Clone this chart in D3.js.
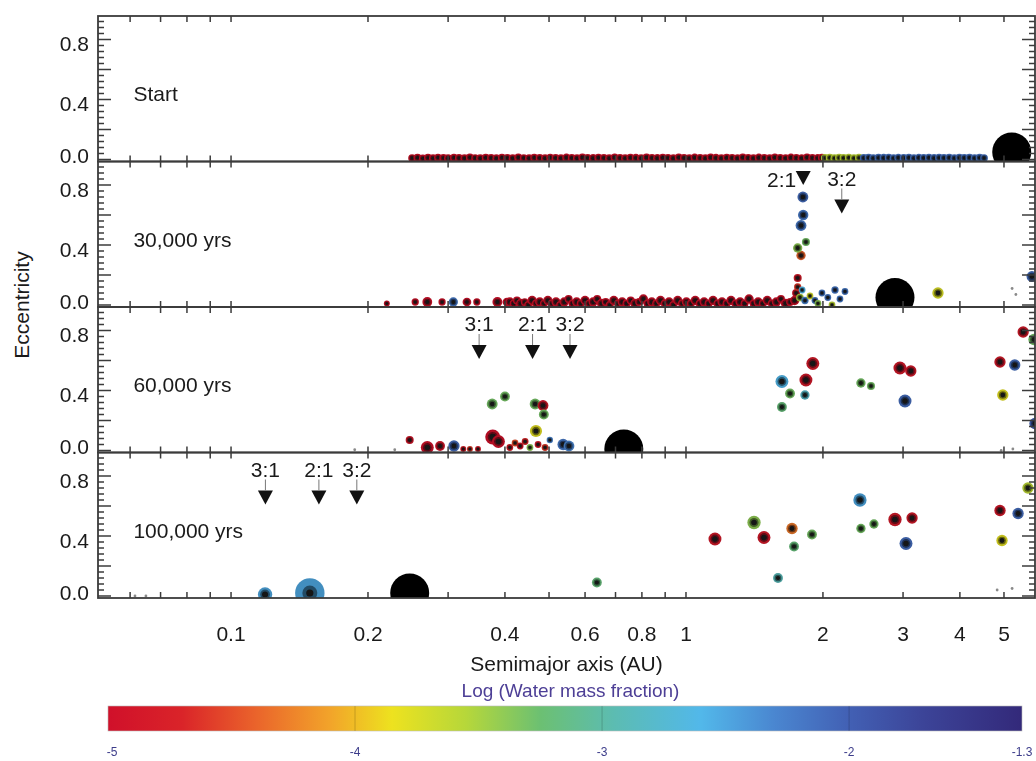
<!DOCTYPE html>
<html>
<head>
<meta charset="utf-8">
<script src="https://cdn.jsdelivr.net/npm/d3@7"></script>
<style>
body{margin:0;background:#fff}
svg{display:block;font-family:"Liberation Sans",Arial,Helvetica,sans-serif}
</style>
</head>
<body>
<div id="chart"></div>
<script>
// Eccentricity vs semimajor axis, 4 snapshots, colour = log water mass fraction
// bodies: [a (AU), e, mass (rel.), log water fraction]  (null = grey tracer)

const panelNames = ["Start", "30,000 yrs", "60,000 yrs", "100,000 yrs"];

const jupiterA = [5.2, 2.88, 0.73, 0.247];
const jupiterE = [0.05, 0.05, 0.01, 0.02];

// mean motion resonances with the giant planet
const resLabels = [[], ["2:1", "3:2"], ["3:1", "2:1", "3:2"], ["3:1", "2:1", "3:2"]];
const resA      = [[], [1.81, 2.20], [0.351, 0.46, 0.556], [0.119, 0.156, 0.189]];
const resTipE   = [[], [0.80, 0.61], [0.61, 0.61, 0.61], [0.61, 0.61, 0.61]];

const bodiesStart = [
  [0.250,.010,.18,-5],[0.257,.012,.2,-5],[0.264,.008,.18,-5],[0.271,.011,.2,-5],[0.278,.009,.2,-5],
  [0.285,.013,.18,-5],[0.293,.010,.2,-5],[0.300,.008,.2,-5],[0.309,.012,.18,-5],[0.317,.010,.2,-5],
  [0.326,.009,.2,-5],[0.335,.013,.2,-5],[0.344,.010,.18,-5],[0.353,.008,.2,-5],[0.363,.012,.2,-5],
  [0.373,.010,.2,-5],[0.383,.009,.18,-5],[0.394,.012,.2,-5],[0.405,.010,.2,-5],[0.416,.008,.2,-5],
  [0.428,.013,.2,-5],[0.440,.010,.18,-5],[0.452,.009,.2,-5],[0.464,.012,.2,-5],[0.477,.010,.2,-5],
  [0.490,.008,.2,-5],[0.503,.013,.18,-5],[0.517,.010,.2,-5],[0.531,.009,.2,-5],[0.546,.012,.22,-5],
  [0.561,.010,.2,-5],[0.576,.008,.2,-5],[0.592,.013,.2,-5],[0.608,.010,.2,-5],[0.625,.009,.22,-5],
  [0.642,.012,.2,-5],[0.660,.010,.2,-5],[0.678,.008,.2,-5],[0.697,.013,.22,-5],[0.716,.010,.2,-5],
  [0.735,.009,.2,-5],[0.755,.012,.2,-5],[0.776,.010,.22,-5],[0.797,.008,.2,-5],[0.819,.013,.2,-5],
  [0.842,.010,.2,-5],[0.865,.009,.22,-5],[0.889,.012,.2,-5],[0.913,.010,.2,-5],[0.938,.008,.22,-5],
  [0.964,.013,.2,-5],[0.990,.010,.2,-5],[1.017,.009,.2,-5],[1.045,.012,.22,-5],[1.074,.010,.2,-5],
  [1.103,.008,.2,-5],[1.133,.013,.2,-5],[1.164,.010,.22,-5],[1.196,.009,.2,-5],[1.229,.012,.2,-5],
  [1.263,.010,.2,-5],[1.298,.008,.22,-5],[1.333,.013,.2,-5],[1.370,.010,.2,-5],[1.407,.009,.2,-5],
  [1.446,.012,.22,-5],[1.486,.010,.2,-5],[1.527,.008,.2,-5],[1.568,.013,.22,-5],[1.611,.010,.2,-5],
  [1.656,.009,.2,-5],[1.701,.012,.22,-5],[1.748,.010,.2,-5],[1.796,.008,.22,-5],[1.845,.013,.2,-5],
  [1.896,.010,.2,-5],[1.948,.009,.22,-5],[1.990,.012,.2,-5],
  [2.02,.010,.2,-3.6],[2.07,.012,.2,-3.6],[2.12,.009,.2,-3.6],[2.17,.011,.2,-3.6],[2.22,.010,.2,-3.6],
  [2.28,.012,.2,-3.6],[2.34,.009,.2,-3.6],[2.40,.011,.2,-3.6],
  [2.46,.010,.2,-2.15],[2.52,.012,.2,-2.15],[2.58,.009,.2,-2.15],[2.65,.011,.2,-2.15],[2.72,.010,.22,-2.15],
  [2.79,.012,.2,-2.15],[2.86,.009,.2,-2.15],[2.93,.011,.22,-2.15],[3.01,.010,.2,-2.15],[3.09,.012,.2,-2.15],
  [3.17,.009,.2,-2.15],[3.25,.011,.22,-2.15],[3.33,.010,.2,-2.15],[3.42,.012,.2,-2.15],[3.51,.009,.22,-2.15],
  [3.60,.011,.2,-2.15],[3.69,.010,.2,-2.15],[3.79,.012,.2,-2.15],[3.89,.009,.2,-2.15],[3.99,.011,.2,-2.15],
  [4.09,.010,.2,-2.15],[4.20,.012,.2,-2.15],[4.31,.009,.2,-2.15],[4.42,.011,.2,-2.15],[4.52,.010,.18,-2.15]
];

const bodies30k = [
  [0.220,.01,.08,-5],[0.254,.02,.15,-5],[0.270,.02,.35,-5],[0.291,.02,.15,-5],[0.308,.02,.3,-2.2],
  [0.330,.02,.25,-5],[0.347,.02,.15,-5],[0.385,.02,.35,-5],[0.404,.02,.25,-5],
  [0.410,.02,.3,-5],[0.418,.01,.2,-5],[0.425,.03,.2,-5],[0.433,.01,.3,-5],[0.442,.02,.18,-5],
  [0.450,.00,.2,-5],[0.459,.03,.3,-5],[0.468,.01,.2,-5],[0.477,.02,.3,-5],[0.487,.01,.18,-5],
  [0.497,.03,.3,-5],[0.507,.01,.2,-5],[0.518,.02,.3,-5],[0.529,.00,.2,-5],[0.540,.02,.3,-5],
  [0.552,.04,.2,-5],[0.563,.01,.2,-5],[0.575,.02,.3,-5],[0.587,.01,.2,-5],[0.600,.03,.3,-5],
  [0.612,.01,.18,-5],[0.625,.02,.3,-5],[0.638,.04,.2,-5],[0.652,.01,.3,-5],[0.666,.02,.2,-5],
  [0.680,.00,.2,-5],[0.694,.03,.3,-5],[0.709,.01,.2,-5],[0.724,.02,.3,-5],[0.740,.01,.2,-5],
  [0.756,.03,.2,-5],[0.772,.01,.3,-5],[0.789,.02,.2,-5],[0.806,.04,.3,-5],[0.823,.01,.2,-5],
  [0.841,.02,.3,-5],[0.860,.01,.2,-5],[0.879,.03,.3,-5],[0.898,.01,.2,-5],[0.918,.02,.3,-5],
  [0.938,.00,.2,-5],[0.959,.03,.3,-5],[0.980,.01,.2,-5],[1.002,.02,.3,-5],[1.025,.01,.2,-5],
  [1.048,.03,.3,-5],[1.072,.01,.2,-5],[1.096,.02,.3,-5],[1.121,.01,.2,-5],[1.147,.03,.3,-5],
  [1.173,.01,.2,-5],[1.200,.02,.3,-5],[1.228,.01,.2,-5],[1.256,.03,.3,-5],[1.285,.01,.2,-5],
  [1.315,.02,.3,-5],[1.345,.01,.2,-5],[1.376,.04,.3,-5],[1.408,.01,.2,-5],[1.441,.02,.3,-5],
  [1.475,.01,.2,-5],[1.509,.03,.3,-5],[1.544,.01,.2,-5],[1.580,.02,.3,-5],[1.617,.04,.2,-5],
  [1.655,.01,.3,-5],[1.694,.02,.2,-5],[1.733,.03,.3,-5],
  [1.746,.08,.2,-4.9],[1.76,.12,.15,-4.6],[1.78,.05,.18,-3.5],[1.80,.10,.12,-2.6],[1.826,.03,.15,-2.3],
  [1.873,.06,.12,-3.7],[1.921,.03,.12,-2.2],[1.95,.01,.12,-3.4],[1.99,.08,.12,-2.2],[2.05,.05,.12,-2.2],
  [2.094,.00,.12,-3.6],[2.126,.10,.15,-2.2],[2.18,.04,.12,-2.2],[2.236,.09,.12,-2.2],
  [1.76,.18,.2,-4.8],[1.79,.33,.3,-4.4],[1.76,.38,.3,-3.4],[1.835,.42,.2,-3.3],
  [1.79,.53,.45,-2.2],[1.81,.60,.4,-2.2],[1.807,.72,.45,-2.1],
  [3.58,.08,.5,-3.75],[5.21,.11,.03,null],[5.31,.07,.03,null],[5.76,.19,.45,-2.1]
];

const bodies60k = [
  [0.187,.005,.04,null],[0.229,.005,.04,null],[0.247,.07,.2,-4.9],[0.270,.02,.7,-5],[0.288,.03,.35,-4.9],
  [0.309,.03,.5,-2.1],[0.324,.01,.08,-4.8],[0.335,.01,.08,-4.6],[0.349,.01,.08,-4.8],
  [0.410,.02,.12,-4.8],[0.421,.05,.12,-4.5],[0.432,.03,.12,-4.9],[0.443,.06,.12,-4.7],[0.454,.02,.12,-3.4],
  [0.473,.04,.12,-4.8],[0.490,.02,.12,-4.6],[0.502,.07,.1,-2.3],
  [0.376,.09,1.0,-5],[0.387,.06,.7,-5],[0.375,.31,.45,-3.3],[0.400,.36,.35,-3.3],
  [0.466,.31,.45,-3.3],[0.485,.30,.45,-4.9],[0.487,.24,.35,-3.3],[0.468,.13,.6,-3.8],
  [0.537,.04,.5,-2.2],[0.553,.03,.45,-2.3],
  [1.625,.46,.7,-2.6],[1.693,.38,.35,-3.3],[1.625,.29,.35,-3.2],[1.835,.47,.7,-4.9],[1.90,.58,.7,-4.9],
  [1.826,.37,.3,-2.8],[2.424,.45,.3,-3.3],[2.551,.43,.2,-3.3],[2.953,.55,.7,-4.9],[3.12,.53,.5,-4.9],
  [3.03,.33,.7,-2.1],[4.90,.59,.5,-4.9],[5.28,.57,.5,-2.1],[4.97,.37,.5,-3.8],[5.51,.79,.5,-4.9],
  [5.82,.74,.5,-3.3],[5.85,.18,.5,-2.0],[4.93,.00,.03,null],[5.23,.01,.03,null]
];

const bodies100k = [
  [0.0615,.0,.03,null],[0.065,.0,.03,null],[0.1188,.01,.9,-2.5],[0.149,.02,4.6,-2.5],[0.637,.09,.35,-3.2],
  [1.158,.38,.7,-4.9],[1.411,.49,.75,-3.4],[1.484,.39,.7,-4.9],[1.71,.45,.5,-4.3],[1.728,.33,.35,-3.2],
  [1.892,.41,.35,-3.3],[1.593,.12,.35,-2.9],[2.412,.64,.75,-2.5],[2.424,.45,.3,-3.3],[2.589,.48,.3,-3.3],
  [2.88,.51,.75,-4.9],[3.14,.52,.5,-4.9],[3.045,.35,.7,-2.1],[4.90,.57,.5,-4.9],[5.37,.55,.5,-2.1],
  [4.95,.37,.5,-3.8],[5.645,.72,.5,-3.6],[4.83,.04,.03,null],[5.21,.05,.03,null]
];

const panelBodies = [bodiesStart, bodies30k, bodies60k, bodies100k];

const xTickLabels = [0.1, 0.2, 0.4, 0.6, 0.8, 1, 2, 3, 4, 5];
const yTickLabels = [0, 0.4, 0.8];

const waterStops  = [-5, -4.7, -4.4, -4.1, -3.85, -3.55, -3.25, -2.95, -2.6, -2.3, -2.0, -1.7, -1.3];
const waterColors = ["#d0102a","#da2429","#ea642b","#f2a42a","#ede21f","#b6d73a","#6cc072",
                     "#5cbcb2","#52b8ea","#4a86d0","#4260b4","#3c4498","#33297a"];
const waterTicks = [-5, -4, -3, -2, -1.3];

// ---------------- layout
const W = 1036, H = 761;
const plotL = 98, plotR = 1035, top0 = 16, panelH = 145.5;
const FONT = 21;

const x = d3.scaleLog().domain([0.051, 5.85]).range([plotL, plotR]);
const color = d3.scaleLinear().domain(waterStops).range(waterColors).clamp(true);
const rScale = d3.scaleSqrt().domain([0, 1]).range([1.2, 7.5]);
const halo = w => d3.interpolateRgb(color(w), "#000")(0.15);

const svg = d3.select("#chart").append("svg")
  .attr("width", W).attr("height", H);
const defs = svg.append("defs");
defs.append("filter").attr("id", "soft")
  .attr("x", "-5%").attr("y", "-5%").attr("width", "110%").attr("height", "110%")
  .append("feGaussianBlur").attr("stdDeviation", 0.7);

const axisCol = "#3b3b3b";

panelBodies.forEach((bodies, i) => {
  const top = top0 + i * panelH, bot = top + panelH;
  const y = d3.scaleLinear().domain([0, 0.8]).range([bot - 2, bot - 122]);

  defs.append("clipPath").attr("id", "clip" + i)
    .append("rect").attr("x", plotL).attr("y", top)
    .attr("width", plotR - plotL).attr("height", panelH);

  const layer = svg.append("g").attr("clip-path", `url(#clip${i})`)
    .append("g").attr("filter", "url(#soft)");

  // bodies: coloured halo, darker ring, black core
  const b = layer.selectAll("g.body").data(bodies).enter().append("g")
    .attr("class", "body")
    .attr("transform", d => `translate(${x(d[0])},${y(d[1])})`);
  b.append("circle")
    .attr("r", d => d[3] == null ? 1.4 : rScale(d[2]))
    .attr("fill", d => d[3] == null ? "#8a8a8a" : halo(d[3]));
  b.filter(d => d[3] != null).append("circle")
    .attr("r", d => Math.min(rScale(d[2]) * 0.68, 7.5))
    .attr("fill", d => d3.interpolateRgb(color(d[3]), "#000")(0.55));
  b.filter(d => d[3] != null).append("circle")
    .attr("r", d => Math.min(rScale(d[2]) * 0.42, 3.6))
    .attr("fill", "#141414");

  // giant planet
  layer.append("circle")
    .attr("cx", x(jupiterA[i])).attr("cy", y(jupiterE[i]))
    .attr("r", 19.5).attr("fill", "#050505");

  // resonance markers
  resA[i].forEach((a, k) => {
    const cx = x(a), tip = y(resTipE[i][k]);
    const g = svg.append("g");
    g.append("path")
      .attr("d", `M${cx - 7.5},${tip - 14}L${cx + 7.5},${tip - 14}L${cx},${tip}Z`)
      .attr("fill", "#111");
    if (tip - 36 < top) {
      g.append("text").attr("x", cx - 7).attr("y", tip + 2)
        .attr("text-anchor", "end").attr("font-size", FONT).attr("fill", "#1a1a1a")
        .text(resLabels[i][k]);
    } else {
      g.append("line").attr("x1", cx).attr("x2", cx)
        .attr("y1", tip - 25).attr("y2", tip - 14)
        .attr("stroke", "#777").attr("stroke-width", 1);
      g.append("text").attr("x", cx).attr("y", tip - 28)
        .attr("text-anchor", "middle").attr("font-size", FONT).attr("fill", "#1a1a1a")
        .text(resLabels[i][k]);
    }
  });

  // frame
  svg.append("rect").attr("x", plotL).attr("y", top)
    .attr("width", plotR - plotL).attr("height", panelH)
    .attr("fill", "none").attr("stroke", axisCol).attr("stroke-width", 1.8);

  const ax = svg.append("g").attr("stroke", axisCol).attr("stroke-width", 1.5);
  x.ticks().forEach(t => {
    ax.append("line").attr("x1", x(t)).attr("x2", x(t)).attr("y1", top).attr("y2", top + 6);
    ax.append("line").attr("x1", x(t)).attr("x2", x(t)).attr("y1", bot).attr("y2", bot - 6);
  });
  d3.range(0, 24).map(k => k * 0.04).filter(v => y(v) > top + 1).forEach((v, k) => {
    const major = k % 5 === 0;
    const len = major ? 13 : 6;
    ax.append("line").attr("x1", plotL).attr("x2", plotL + len).attr("y1", y(v)).attr("y2", y(v));
    ax.append("line").attr("x1", plotR).attr("x2", plotR - len).attr("y1", y(v)).attr("y2", y(v));
  });

  svg.append("g").selectAll("text").data(yTickLabels).enter().append("text")
    .attr("x", plotL - 9)
    .attr("y", d => d === 0 ? y(d) + 3.5 : y(d) + 11.5)
    .attr("text-anchor", "end").attr("font-size", FONT).attr("fill", "#1a1a1a")
    .text(d => d3.format(".1f")(d));

  svg.append("text").attr("x", x(0.061)).attr("y", y(0.39))
    .attr("font-size", FONT).attr("fill", "#1a1a1a")
    .text(panelNames[i]);
});

const bottom = top0 + 4 * panelH;

// x tick labels
svg.append("g").selectAll("text").data(xTickLabels).enter().append("text")
  .attr("x", d => x(d)).attr("y", bottom + 43)
  .attr("text-anchor", "middle").attr("font-size", FONT).attr("fill", "#1a1a1a")
  .text(d => String(d));

svg.append("text").attr("x", (plotL + plotR) / 2).attr("y", bottom + 73)
  .attr("text-anchor", "middle").attr("font-size", FONT).attr("fill", "#1a1a1a")
  .text("Semimajor axis (AU)");

svg.append("text")
  .attr("transform", `translate(29,305) rotate(-90)`)
  .attr("text-anchor", "middle").attr("font-size", FONT).attr("fill", "#1a1a1a")
  .text("Eccentricity");

// colour bar
const cb = d3.scaleLinear().domain([-5, -1.3]).range([108, 1022]);
const grad = defs.append("linearGradient").attr("id", "wgrad")
  .attr("x1", "0%").attr("x2", "100%").attr("y1", "0%").attr("y2", "0%");
waterStops.forEach((s, k) => {
  grad.append("stop")
    .attr("offset", ((cb(s) - 108) / (1022 - 108) * 100) + "%")
    .attr("stop-color", waterColors[k]);
});
svg.append("text").attr("x", (plotL + plotR) / 2 + 4).attr("y", 697)
  .attr("text-anchor", "middle").attr("font-size", 19).attr("fill", "#4d3f96")
  .text("Log (Water mass fraction)");
svg.append("rect").attr("x", 108).attr("y", 706).attr("width", 914).attr("height", 25)
  .attr("fill", "url(#wgrad)").attr("stroke", "#bbb").attr("stroke-width", 0.6);
svg.append("g").selectAll("line").data([-4, -3, -2]).enter().append("line")
  .attr("x1", d => cb(d)).attr("x2", d => cb(d)).attr("y1", 706).attr("y2", 731)
  .attr("stroke", "#000").attr("stroke-opacity", 0.18);
svg.append("g").selectAll("text").data(waterTicks).enter().append("text")
  .attr("x", d => cb(d) + (d === -5 ? 4 : 0)).attr("y", 756)
  .attr("text-anchor", "middle").attr("font-size", 12).attr("fill", "#3c3c8a")
  .text(d => String(d));
</script>
</body>
</html>
